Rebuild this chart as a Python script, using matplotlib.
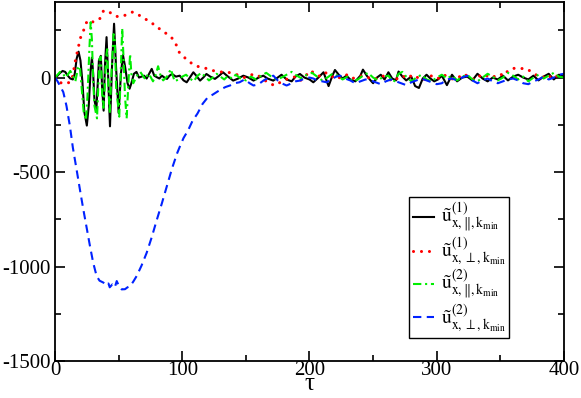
import numpy as np
import matplotlib
matplotlib.use('Agg')
import matplotlib.pyplot as plt
from matplotlib.ticker import MultipleLocator

# --- data ---
t_par1 = [0, 2, 4, 6, 8, 10, 12, 14, 15.5, 17, 18.5, 20, 21.5, 23, 25, 26.5, 28, 29, 30, 31,
          32.5, 33.5, 34.5, 36, 37, 38.2, 39.2, 40.5, 41.8, 43.2, 44.8, 46.4, 48, 50, 51.8, 53.4,
          55, 57, 58.6, 60, 62, 64, 66, 68, 70, 72, 74, 76, 78, 80, 82, 84, 86, 88, 90, 92, 95,
          98, 101, 103.5, 106, 108.7, 111, 114, 116.5, 119, 122, 125.7, 129, 132, 136, 140, 144,
          148, 152, 156, 160, 163.7, 167, 171.5, 175, 178, 182, 186, 189, 192.5, 196, 200, 203,
          207, 211, 215, 218, 220, 223, 226, 229, 232, 236, 240, 242, 245, 248, 250, 253, 256,
          259, 262, 265, 268, 270, 273, 276, 280, 283, 286, 289, 292, 295, 298, 301, 304, 308,
          312, 316, 320, 324, 328, 332, 336, 340, 344, 348, 352, 356, 360, 364, 368, 372, 376,
          380, 384, 388, 392, 396, 400]
u_par1 = [0, 10, 25, 35, 30, 10, -5, -10, 20, 100, 137, 90, -20, -180, -254, -150, 40, 105, 20,
          -120, -170, -40, 90, 115, -50, -175, 60, 214, 0, -258, 60, 285, 50, -187, 20, 119, 60,
          -30, -59, -30, 20, 30, 0, 5, 10, -5, 20, 46, 10, 2, -5, 10, 0, -7, 10, 19, 5, 10, -15,
          -25, 0, 28, 10, -16, 0, 19, 5, -7, 10, 28, 5, -16, -5, 10, 0, -16, 0, 10, -5, -16, 0,
          15, -10, -20, 5, 19, 0, -10, -25, 0, 28, -45, 10, 40, 15, -5, 10, -10, -20, 10, 42, 10,
          -15, -30, 0, 15, -10, 28, -5, -15, 32, 5, -15, 5, -45, -55, -5, 15, -5, -20, -10, 10,
          -40, 15, -20, 0, 5, -15, 20, -5, -20, 0, -10, 10, -15, 5, 15, 0, -10, 10, -15, 5, 20,
          -10, 15, 5]

t_perp1 = [0, 2, 4, 6, 8, 10, 12, 14, 15.7, 18.3, 20, 22.3, 25, 27, 28.8, 31, 33, 35, 38, 40,
           42, 44, 47, 50, 53.6, 57, 61, 65, 69, 74.7, 80, 86.4, 91.6, 95, 97.7, 103, 108, 114,
           118, 124, 130, 136, 141, 145, 149, 153, 157, 161, 165, 169, 173, 177, 181, 185, 189,
           193, 197, 201, 205, 209, 213, 217, 221, 225, 229, 233, 237, 241, 245, 249, 253, 257,
           261, 265, 269, 273, 277, 281, 285, 289, 293, 297, 301, 305, 309, 313, 317, 321, 325,
           329, 333, 337, 341, 345, 349, 353, 356, 360, 365, 370, 375, 379, 383, 387, 391, 395,
           400]
u_perp1 = [0, -10, -25, -33, -30, -28, -25, 10, 80, 160, 210, 247, 296, 300, 291, 300, 305, 309,
           352, 355, 352, 340, 326, 322, 326, 335, 347, 335, 317, 296, 268, 238, 212, 177, 133,
           98, 72, 54, 50, 37, 30, 28, 20, 10, 0, 12, 19, 5, -15, -33, -42, -25, -10, -5, 5, -15,
           10, 37, 15, 5, 25, 10, -10, 5, 15, -5, 0, 10, 5, -10, -5, 10, 0, -20, -5, 10, -5, 15,
           0, -15, 5, 10, -5, 15, 5, -10, 0, 20, 5, -10, 10, 0, 15, 5, 20, 10, 37, 49, 47, 49,
           28, 10, 0, 15, -5, 10, 5]

t_par2 = [0, 2, 4, 6, 8, 10, 12, 14, 16, 18, 19.5, 21, 22.5, 24.3, 25.5, 27, 28, 29, 30, 31, 33,
          34, 35, 36, 37, 38, 39, 40, 41, 42, 43, 44.5, 46, 47, 48, 50.5, 51.5, 52.8, 54, 55,
          56.3, 57.5, 59, 60, 61.5, 63, 65, 67, 69, 71, 73, 75, 77, 79, 81, 83, 85, 88, 91, 94,
          97, 100, 103, 106, 109, 112, 115, 118, 121, 124, 127, 130, 133, 136, 139, 142, 146,
          150, 154, 158, 162, 166, 170, 174, 178, 182, 186, 190, 194, 198, 202, 206, 210, 214,
          218, 222, 226, 230, 234, 238, 242, 246, 250, 254, 258, 262, 266, 270, 273, 276, 280,
          284, 288, 292, 296, 300, 304, 308, 312, 316, 320, 324, 328, 332, 336, 340, 344, 348,
          352, 356, 360, 364, 368, 372, 376, 380, 384, 388, 392, 396, 400]
u_par2 = [0, 15, 30, 25, 0, 15, 35, 10, -20, 50, 60, -60, -180, -225, -100, 150, 293, 200, -20,
          -150, -216, -50, 100, 110, -80, -160, -60, 100, 150, -50, -190, 40, 230, 200, -50,
          -207, 0, 261, 80, -100, -216, -50, 125, 20, -30, -10, 15, 30, 10, -10, 20, 5, -20, 10,
          60, 10, -15, 5, 45, -20, -10, 5, 15, -5, -20, 10, 25, 5, -15, 0, 20, 5, -10, 10, -5,
          15, -5, -15, 5, -10, 10, 25, 5, -10, 0, 15, 30, 10, -5, 15, 25, 5, -15, 0, 20, 10, -10,
          5, -20, -10, 10, 25, 0, -15, 5, 10, -25, 20, 30, 5, -20, 0, 15, -10, -20, 0, 15, -5,
          10, -15, 5, 15, -10, -20, 0, 20, 5, -15, 0, 25, 10, -10, 5, -20, 0, 15, -5, 10, 25, 5,
          0]

t_perp2 = [0, 2, 4, 6.5, 9, 11.8, 14, 17, 20, 22.3, 25, 27.5, 30, 32.7, 35, 38, 40, 42, 43, 45,
           47, 48.5, 50, 52.4, 55, 57, 59, 61.5, 64.2, 68, 72, 76, 80, 84, 87.8, 92, 96, 98, 101,
           104.6, 108, 112, 116, 120, 124, 127, 131, 134, 137.5, 141, 145, 149, 153, 156, 160,
           164, 168, 171.6, 175, 178, 182, 186, 189, 192.5, 196, 200, 203, 206, 210, 213.5, 217,
           221, 224, 228, 232, 236, 240, 244, 248, 252, 256, 260, 264, 268, 272, 276, 280, 284,
           288, 292, 296, 300, 304, 308, 312, 316, 320, 324, 328, 332, 336, 340, 344, 348, 352,
           356, 360, 364, 368, 372, 376, 380, 384, 388, 392, 396, 400]
u_perp2 = [0, -20, -45, -77, -150, -261, -370, -489, -610, -700, -800, -893, -980, -1051, -1075,
           -1085, -1100, -1090, -1110, -1095, -1110, -1077, -1100, -1121, -1120, -1110, -1104,
           -1080, -1050, -995, -928, -845, -753, -665, -577, -480, -400, -367, -320, -279, -230,
           -190, -139, -105, -90, -77, -60, -50, -42, -30, -25, -10, -30, -42, -35, -15, 0, 10,
           -15, -30, -42, -30, -20, -16, -5, 0, -5, -15, -20, -25, -10, 5, 10, -5, -15, -30, -20,
           -10, -15, -25, -35, -20, -10, -20, -30, -40, -25, -15, -5, -15, -25, -35, -30, -10,
           -5, -15, 0, 10, -15, -30, -15, -5, -20, -30, -20, -10, -5, -15, -30, -35, -20, -10, 5,
           -10, 0, 15, 20]

labels = [r'$\tilde{\mathrm{u}}^{(1)}_{\mathrm{x},\Vert,\mathrm{k}_{\mathrm{min}}}$',
          r'$\tilde{\mathrm{u}}^{(1)}_{\mathrm{x},\perp,\mathrm{k}_{\mathrm{min}}}$',
          r'$\tilde{\mathrm{u}}^{(2)}_{\mathrm{x},\Vert,\mathrm{k}_{\mathrm{min}}}$',
          r'$\tilde{\mathrm{u}}^{(2)}_{\mathrm{x},\perp,\mathrm{k}_{\mathrm{min}}}$']

plt.rcParams['font.family'] = 'Liberation Serif'
plt.rcParams['mathtext.fontset'] = 'stix'
plt.rcParams['axes.unicode_minus'] = False

fig = plt.figure(figsize=(5.81, 3.98), dpi=100)
ax = fig.add_axes([0.0947, 0.093, 0.876, 0.902])

ax.plot(t_par1, u_par1, color='black', lw=1.5, label=labels[0])
ax.plot(t_perp1, u_perp1, color='red', lw=2.2, linestyle=(0, (0.01, 2.6)),
        dash_capstyle='round', label=labels[1])
ax.plot(t_par2, u_par2, color='#00ee00', lw=1.5, linestyle=(0, (4, 1.8, 1, 1.8)),
        label=labels[2])
ax.plot(t_perp2, u_perp2, color='#0022ff', lw=1.5, linestyle=(0, (4, 2.6)), label=labels[3])

ax.set_xlim(0, 400)
ax.set_ylim(-1500, 400)
ax.xaxis.set_major_locator(MultipleLocator(100))
ax.xaxis.set_minor_locator(MultipleLocator(50))
ax.yaxis.set_major_locator(MultipleLocator(500))
ax.yaxis.set_minor_locator(MultipleLocator(250))
ax.tick_params(which='both', direction='in', top=True, right=True, labelsize=15, width=1.2)
ax.tick_params(which='major', length=7)
ax.tick_params(which='minor', length=4)
ax.tick_params(axis='x', pad=0)
ax.tick_params(axis='y', pad=3)
for s in ax.spines.values():
    s.set_linewidth(1.3)
ax.set_xlabel('τ', fontsize=18, labelpad=-5)

leg = ax.legend(loc='lower left', bbox_to_anchor=(0.695, 0.064), borderaxespad=0,
                fontsize=14, frameon=True, fancybox=False, edgecolor='black', framealpha=1,
                handlelength=1.1, labelspacing=0.02, borderpad=0.2, handletextpad=0.35)
leg.get_frame().set_linewidth(1.0)

fig.savefig('out.png', dpi=100)
